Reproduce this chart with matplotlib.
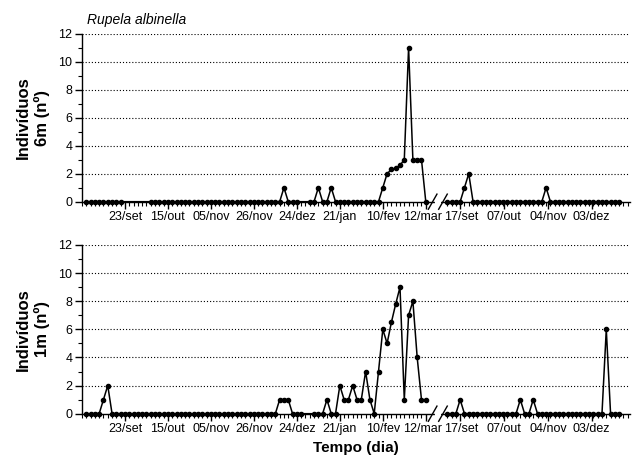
import numpy as np
import matplotlib
matplotlib.use("Agg")
import matplotlib.pyplot as plt
import matplotlib.transforms as mtransforms

plt.rcParams['font.family'] = ['Liberation Sans', 'DejaVu Sans']

# ------------------------- data -----------------------------------
# sample index along the season (one sample per tick), axis break after 80
pre_days = np.arange(1, 81)
post_days = np.arange(85, 126)

tick_pos_pre = [10, 20, 30, 40, 50, 60, 70, 80]
tick_lab_pre = ['23/set', '15/out', '05/nov', '26/nov', '24/dez', '21/jan', '10/fev', '12/mar']
tick_pos_post = [88, 98.2, 108.4, 118.6]
tick_lab_post = ['17/set', '07/out', '04/nov', '03/dez']

# samples not taken (line passes straight over them)
missing_6m = [10, 11, 12, 13, 14, 15, 51, 52]
missing_1m = [52, 53]

# non-zero counts (all other samples are 0)
counts_6m = {47: 1, 55: 1, 58: 1, 70: 1, 71: 2, 72: 2.3, 73: 2.4, 74: 2.6, 75: 3,
             76: 11, 77: 3, 78: 3, 79: 3,
             89: 1, 90: 2, 108: 1}
counts_1m = {5: 1, 6: 2, 46: 1, 47: 1, 48: 1, 57: 1, 60: 2, 61: 1, 62: 1, 63: 2,
             64: 1, 65: 1, 66: 3, 67: 1, 69: 3, 70: 6, 71: 5, 72: 6.5, 73: 7.8,
             74: 9, 75: 1, 76: 7, 77: 8, 78: 4, 79: 1, 80: 1,
             88: 1, 102: 1, 105: 1, 122: 6}


def build_series(days, counts, missing):
    x = [d for d in days if d not in missing]
    y = [counts.get(d, 0) for d in x]
    return x, y


fig = plt.figure(figsize=(6.32, 4.63), dpi=100)
ax_top = fig.add_axes([0.1297, 0.5644, 0.867, 0.3629])
ax_bot = fig.add_axes([0.1297, 0.1065, 0.867, 0.3644])

panels = [(ax_top, counts_6m, missing_6m, 'Indivíduos\n6m (nº)'),
          (ax_bot, counts_1m, missing_1m, 'Indivíduos\n1m (nº)')]

for ax, counts, missing, ylab in panels:
    for days in (pre_days, post_days):
        x, y = build_series(days, counts, missing)
        ax.plot(x, y, color='black', lw=1.1, marker='o', ms=3.0,
                mfc='black', mec='black', clip_on=False, zorder=5)

    ax.set_xlim(0, 127.5)
    ax.set_ylim(0, 12)
    ax.set_yticks(np.arange(0, 13, 2))
    ax.set_yticks(np.arange(1, 12, 2), minor=True)
    for yv in range(2, 13, 2):
        ax.axhline(yv, color='black', lw=0.8, ls=(0, (1, 1.8)), zorder=1)

    ax.set_xticks(tick_pos_pre + tick_pos_post)
    ax.set_xticklabels(tick_lab_pre + tick_lab_post)
    minor = list(range(0, 81)) + list(range(85, 128))
    ax.set_xticks(minor, minor=True)

    ax.tick_params(axis='both', which='major', direction='out', length=5,
                   width=1, labelsize=9, pad=2)
    ax.tick_params(axis='both', which='minor', direction='out', length=3, width=0.8)
    ax.spines['top'].set_visible(False)
    ax.spines['right'].set_visible(False)
    ax.spines['left'].set_linewidth(1)
    ax.spines['bottom'].set_linewidth(1)

    # labels either side of the break sit tight together, nudge them apart
    labels = ax.get_xticklabels()
    labels[7].set_transform(labels[7].get_transform() +
                            mtransforms.ScaledTranslation(-3 / 100, 0, fig.dpi_scale_trans))
    labels[8].set_transform(labels[8].get_transform() +
                            mtransforms.ScaledTranslation(1 / 100, 0, fig.dpi_scale_trans))

    # axis break marks
    trans = ax.get_xaxis_transform()
    ax.plot([82.5, 83.0], [0, 0], color='white', lw=3, transform=trans,
            clip_on=False, zorder=6)
    for x0 in (80.6, 83.0):
        ax.plot([x0, x0 + 2.0], [-0.045, 0.045], color='black', lw=1,
                transform=trans, clip_on=False, zorder=7)

    ax.set_ylabel(ylab, fontsize=12, fontweight='bold', labelpad=6,
                  linespacing=1.25)

ax_top.text(0.01, 1.04, 'Rupela albinella', transform=ax_top.transAxes,
            fontsize=10, style='italic', ha='left', va='bottom')
ax_bot.set_xlabel('Tempo (dia)', fontsize=11, fontweight='bold', labelpad=4)

fig.savefig('out.png', dpi=100)
